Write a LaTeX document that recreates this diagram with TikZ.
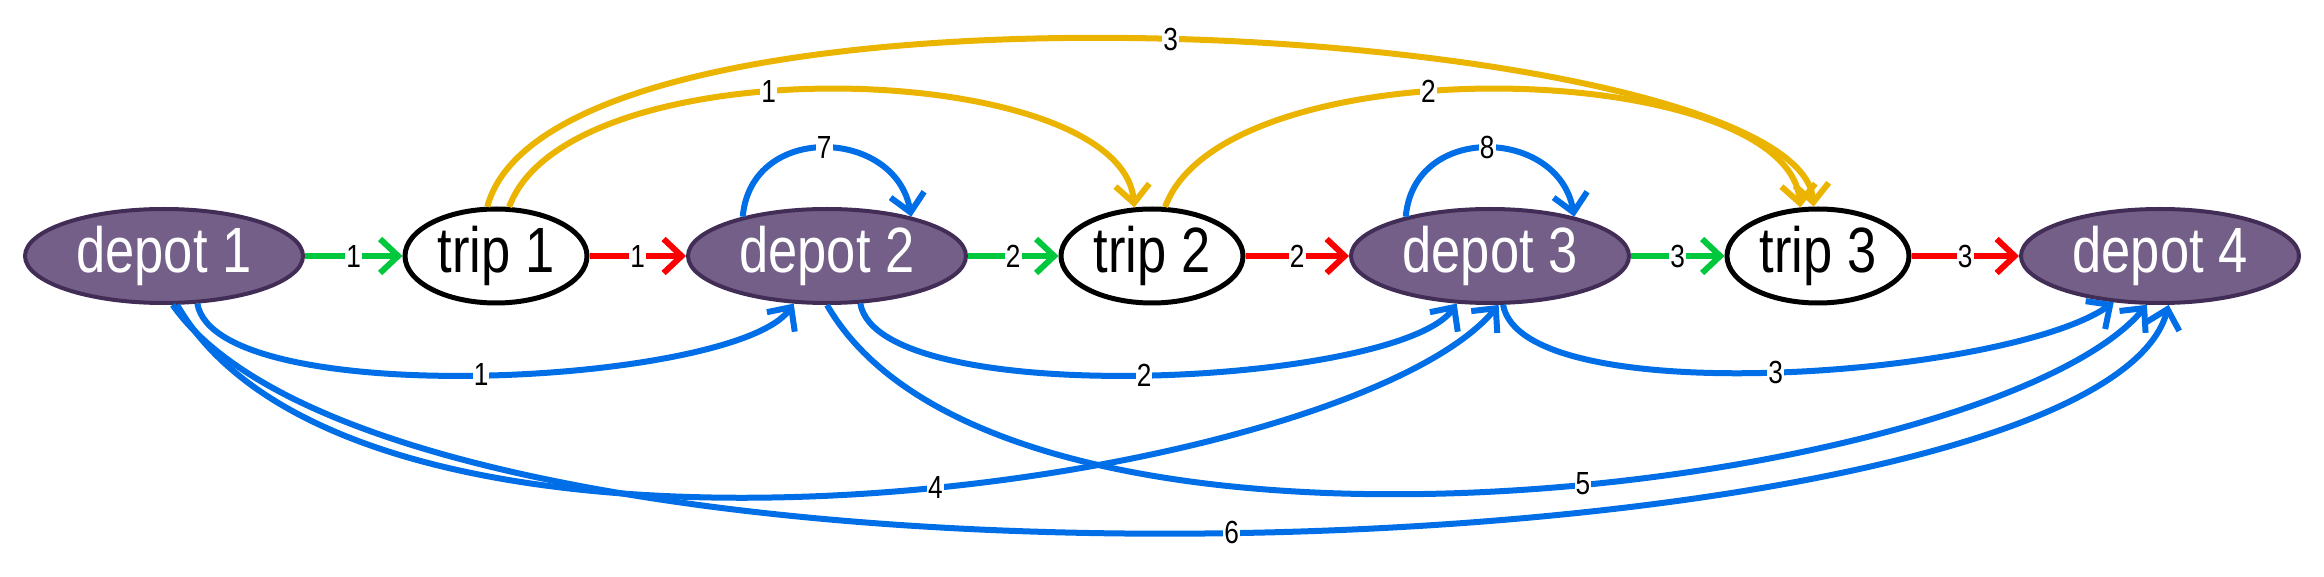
\documentclass[tikz,border=0pt]{standalone}
\usepackage{fontspec}
\setmainfont[FakeStretch=0.82]{Liberation Sans}
\usetikzlibrary{arrows.meta,shapes.geometric}
\definecolor{gr}{RGB}{0,200,60}
\definecolor{rd}{RGB}{250,0,0}
\definecolor{yl}{RGB}{235,180,0}
\definecolor{bl}{RGB}{0,110,230}
\definecolor{dfill}{RGB}{115,95,135}
\definecolor{dline}{RGB}{65,45,85}
\begin{document}
\begin{tikzpicture}[x=1pt,y=1pt,
  depot/.style={ellipse,draw=dline,line width=4pt,fill=dfill,minimum width=278pt,minimum height=94pt,inner sep=0pt,text=white,font=\fontsize{64}{66}\selectfont},
  trip/.style={ellipse,draw=black,line width=5pt,fill=white,minimum width=182pt,minimum height=94pt,inner sep=0pt,font=\fontsize{64}{66}\selectfont},
  e/.style={line width=6pt,-{Straight Barb[length=18pt,width=34pt,line width=6pt]}},
  lbl/.style={fill=white,inner sep=1pt,text=black,font=\fontsize{32}{34}\selectfont}]
\useasboundingbox (0,0) rectangle (2324,576);
\node[depot] (d1) at (164,320) {depot 1};
\node[trip] (t1) at (496,320) {trip 1};
\node[depot] (d2) at (827,320) {depot 2};
\node[trip] (t2) at (1152,320) {trip 2};
\node[depot] (d3) at (1490,320) {depot 3};
\node[trip] (t3) at (1818,320) {trip 3};
\node[depot] (d4) at (2160,320) {depot 4};
% green
\draw[e,gr] (d1) -- node[lbl]{1} (t1);
\draw[e,gr] (d2) -- node[lbl]{2} (t2);
\draw[e,gr] (d3) -- node[lbl]{3} (t3);
% red
\draw[e,rd] (t1) -- node[lbl]{1} (d2);
\draw[e,rd] (t2) -- node[lbl]{2} (d3);
\draw[e,rd] (t3) -- node[lbl]{3} (d4);
% yellow
\draw[e,yl] (t1.75) .. controls +(70:175) and +(95:150) .. node[lbl,pos=0.42]{1} (t2.110);
\draw[e,yl] (t2.75) .. controls +(70:175) and +(95:150) .. node[lbl,pos=0.42]{2} (t3.110);
\draw[e,yl] (t1.100) .. controls +(75:270) and +(95:185) .. node[lbl,pos=0.5]{3} (t3.95);
% blue loops
\draw[e,bl] (d2.155) .. controls +(85:95) and +(100:90) .. node[lbl,pos=0.5]{7} (d2.25);
\draw[e,bl] (d3.155) .. controls +(85:95) and +(100:90) .. node[lbl,pos=0.5]{8} (d3.25);
% blue below
\draw[e,bl] (d1.-55) .. controls +(-80:110) and +(-125:100) .. node[lbl,pos=0.5]{1} (d2.-125);
\draw[e,bl] (d2.-55) .. controls +(-80:110) and +(-125:100) .. node[lbl,pos=0.5]{2} (d3.-125);
\draw[e,bl] (d3.-75) .. controls +(-80:110) and +(-145:130) .. node[lbl,pos=0.5]{3} (d4.-135);
\draw[e,bl] (d1.-75) .. controls +(-60:370) and +(-130:240) .. node[lbl,pos=0.55]{4} (d3.-80);
\draw[e,bl] (d2.-90) .. controls +(-60:360) and +(-130:240) .. node[lbl,pos=0.55]{5} (d4.-105);
\draw[e,bl] (d1.-80) .. controls +(-55:410) and +(-105:280) .. node[lbl,pos=0.5]{6} (d4.-80);
\end{tikzpicture}
\end{document}
